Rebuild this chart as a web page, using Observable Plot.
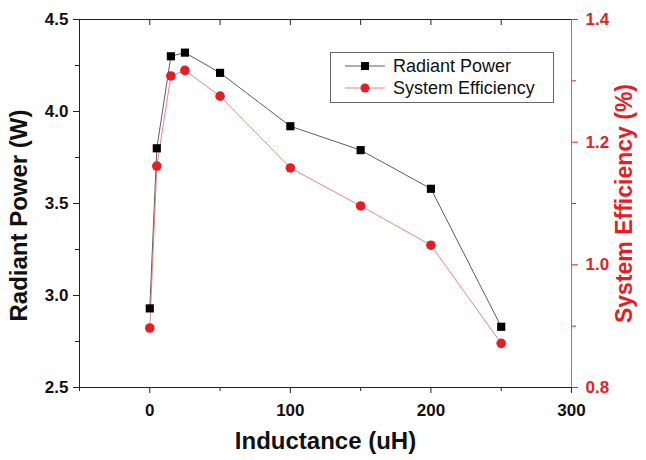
<!DOCTYPE html>
<html><head><meta charset="utf-8">
<script src="https://cdn.jsdelivr.net/npm/d3@7"></script>
<script src="https://cdn.jsdelivr.net/npm/@observablehq/plot@0.6"></script>
<style>body{margin:0;background:#fff} svg{font-family:"Liberation Sans",Arial,sans-serif}</style>
</head><body><div id="chart"></div>
<script>
const inductance = [0, 5, 15, 25, 50, 100, 150, 200, 250];
const radiantPower = [2.93, 3.80, 4.30, 4.32, 4.21, 3.92, 3.79, 3.58, 2.83];
const systemEfficiency = [0.897, 1.161, 1.308, 1.317, 1.275, 1.158, 1.096, 1.032, 0.872];
const xTicks = [0, 100, 200, 300];
const xMinorTicks = [-50, 50, 150, 250];
const xTopTicks = [0, 50, 100, 150, 200, 250];
const powerTicks = [2.5, 3.0, 3.5, 4.0, 4.5];
const powerMinorTicks = [2.75, 3.25, 3.75, 4.25];
const effTicks = [0.8, 1.0, 1.2, 1.4];
const effMinorTicks = [0.9, 1.1, 1.3];
const seriesNames = ["Radiant Power", "System Efficiency"];
const xLabel = "Inductance (uH)";
const yLabel = "Radiant Power (W)";
const y2Label = "System Efficiency (%)";

const pDom = [2.5, 4.5], eDom = [0.8, 1.4];
const e2p = e => pDom[0] + (e - eDom[0]) / (eDom[1] - eDom[0]) * (pDom[1] - pDom[0]);
const p2e = p => eDom[0] + (p - pDom[0]) / (pDom[1] - pDom[0]) * (eDom[1] - eDom[0]);

const power = inductance.map((x, i) => ({x, y: radiantPower[i]}));
const eff = inductance.map((x, i) => ({x, y: e2p(systemEfficiency[i])}));
const RED = "#e41e26";
const FONT = "Liberation Sans, Arial, sans-serif";

const chart = Plot.plot({
  width: 646, height: 460,
  marginLeft: 79, marginRight: 75, marginTop: 19, marginBottom: 73,
  x: {domain: [-50, 300]},
  y: {domain: pDom},
  style: {fontFamily: FONT, background: "#fff", color: "#111"},
  marks: [
    Plot.line(power, {x: "x", y: "y", stroke: "#333", strokeWidth: 0.8}),
    Plot.line(eff, {x: "x", y: "y", stroke: "#e06666", strokeWidth: 0.8}),
    Plot.dot(power, {x: "x", y: "y", symbol: "square", r: 4.6, fill: "#000"}),
    Plot.dot(eff, {x: "x", y: "y", r: 4.8, fill: RED}),
    Plot.ruleY([pDom[1]], {stroke: "#222"}),
    Plot.ruleY([pDom[0]], {stroke: "#222"}),
    Plot.ruleX([-50], {stroke: "#222"}),
    Plot.ruleX([300], {stroke: RED, strokeOpacity: 0.75}),
    Plot.axisX({ticks: xTicks, tickSize: 6, tickPadding: 10, fontSize: 17, fontWeight: "bold", label: null, stroke: "#222"}),
    Plot.axisX({ticks: xMinorTicks, tickSize: 4, tickFormat: () => "", label: null, stroke: "#222"}),
    Plot.axisX({anchor: "top", ticks: xTopTicks, tickSize: -5, tickFormat: () => "", label: null, stroke: "#222"}),
    Plot.axisY({ticks: powerTicks, tickSize: 6, tickPadding: 5, fontSize: 17, fontWeight: "bold", tickFormat: d => d.toFixed(1), label: null, stroke: "#222"}),
    Plot.axisY({ticks: powerMinorTicks, tickSize: 4, tickFormat: () => "", label: null, stroke: "#222"}),
    Plot.axisY({anchor: "right", ticks: effTicks.map(e2p), tickSize: 6, tickPadding: 8, fontSize: 17, fontWeight: "bold", tickFormat: d => p2e(d).toFixed(1), label: null, stroke: RED, fill: RED}),
    Plot.axisY({anchor: "right", ticks: effMinorTicks.map(e2p), tickSize: 4, tickFormat: () => "", label: null, stroke: RED}),
    Plot.text([xLabel], {frameAnchor: "bottom", dy: 54, textAnchor: "middle", lineAnchor: "middle", fontSize: 24, fontWeight: "bold", fill: "#111"}),
    Plot.text([yLabel], {frameAnchor: "left", dx: -60, dy: 12, rotate: -90, textAnchor: "middle", lineAnchor: "middle", fontSize: 24, fontWeight: "bold", fill: "#111"}),
    Plot.text([y2Label], {frameAnchor: "right", dx: 53, dy: 0, rotate: -90, textAnchor: "middle", lineAnchor: "middle", fontSize: 23, fontWeight: "bold", fill: RED})
  ]
});

// legend
const svg = d3.select(chart);
const lg = svg.append("g").attr("font-family", FONT).attr("text-anchor", "start");
lg.append("rect").attr("x", 330.5).attr("y", 52.5).attr("width", 223).attr("height", 50)
  .attr("fill", "#fff").attr("stroke", "#666").attr("stroke-width", 1);
const rowY = [66, 88];
const styles = [
  {line: "#333", fill: "#000", sym: "square"},
  {line: "#e06666", fill: RED, sym: "circle"}
];
seriesNames.forEach((name, i) => {
  const y = rowY[i], s = styles[i];
  lg.append("line").attr("x1", 345).attr("x2", 385).attr("y1", y).attr("y2", y)
    .attr("stroke", s.line).attr("stroke-width", 0.8);
  if (s.sym === "square") {
    lg.append("rect").attr("x", 361).attr("y", y - 4).attr("width", 8).attr("height", 8).attr("fill", s.fill);
  } else {
    lg.append("circle").attr("cx", 365).attr("cy", y).attr("r", 4.5).attr("fill", s.fill);
  }
  lg.append("text").attr("x", 393).attr("y", y).attr("dy", "0.35em").attr("font-size", 18)
    .attr("text-anchor", "start").attr("fill", "#111").text(name);
});

document.getElementById("chart").appendChild(chart);
</script>
</body></html>
